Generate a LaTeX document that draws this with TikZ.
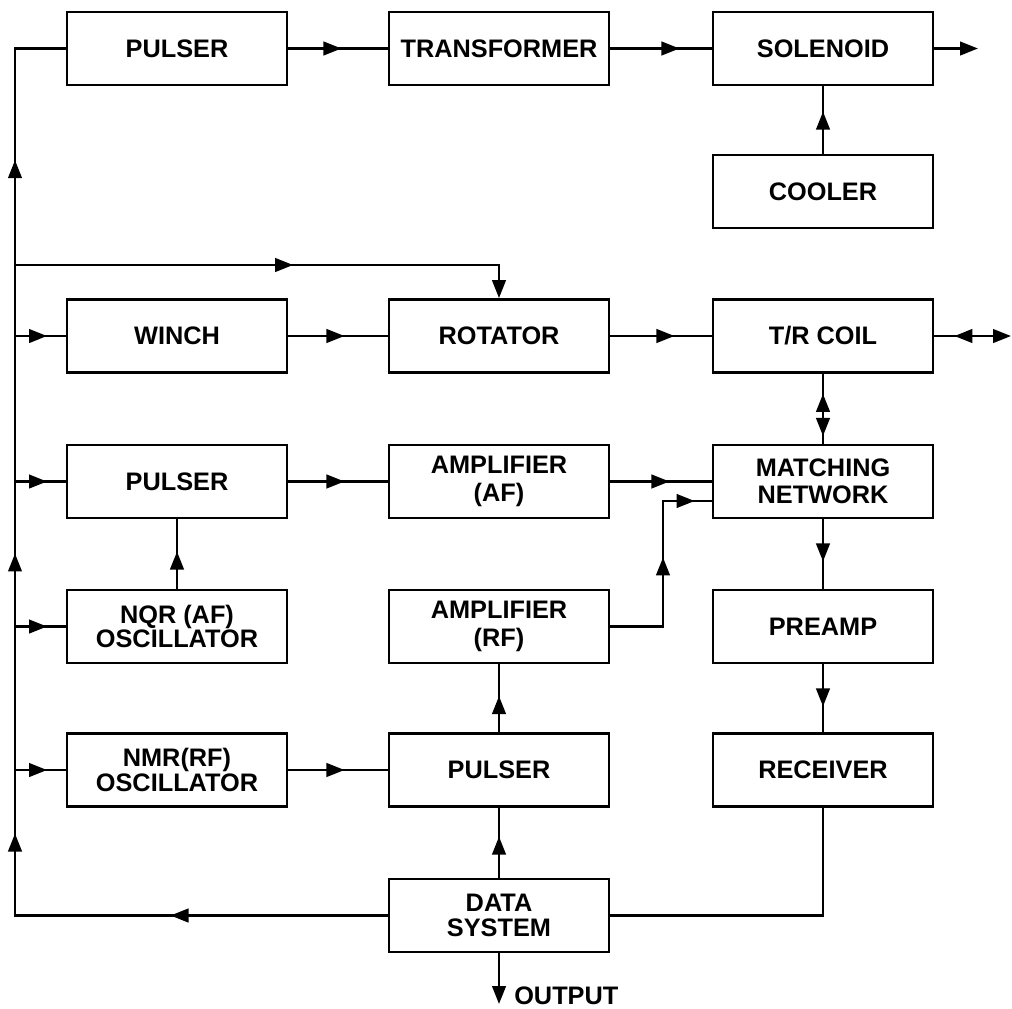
\documentclass[tikz,border=0pt]{standalone}
\usepackage{fontspec}
\setmainfont{Liberation Sans}
\usetikzlibrary{arrows.meta,decorations.markings}
\begin{document}
\begin{tikzpicture}[x=0.025cm,y=-0.025cm,
  harr/.tip={Triangle[length=0.45cm,width=0.34cm]},
  box/.style={draw,line width=2pt,minimum width=5.5cm,minimum height=1.825cm,inner sep=0pt,align=center,font=\fontsize{18}{20}\selectfont\bfseries},
  lh/.style={font=\fontsize{18}{#1}\selectfont\bfseries},
  conn/.style={line width=1.7pt},
  arrowat/.style={postaction={decorate,decoration={markings,mark=at position #1 with {\arrow{harr}}}}},
  revat/.style={postaction={decorate,decoration={markings,mark=at position #1 with {\arrowreversed{harr}}}}},
  endarr/.style={-{harr}},
  lbl/.style={inner sep=0pt,anchor=west,font=\fontsize{18}{20}\selectfont\bfseries}
]
\useasboundingbox (0,0) rectangle (1012,1008);

% boxes
\node[box] (p1)    at (177,48.5)  {PULSER};
\node[box] (tr)    at (499,48.5)  {TRANSFORMER};
\node[box] (sol)   at (823,48.5)  {SOLENOID};
\node[box] (cool)  at (823,191.5) {COOLER};
\node[box] (winch) at (177,336)   {WINCH};
\node[box] (rot)   at (499,336)   {ROTATOR};
\node[box] (trc)   at (823,336)   {T/R COIL};
\node[box] (p2)    at (177,481.5) {PULSER};
\node[box,lh=20] (aaf) at (499,481.5) {AMPLIFIER\\(AF)};
\node[box,lh=19] (mn)  at (823,481.5) {MATCHING\\NETWORK};
\node[box,lh=17] (nqr) at (177,626.5) {NQR (AF)\\OSCILLATOR};
\node[box,lh=20] (arf) at (499,626.5) {AMPLIFIER\\(RF)};
\node[box] (pre)   at (823,626.5) {PREAMP};
\node[box,lh=18] (nmr) at (177,770) {NMR(RF)\\OSCILLATOR};
\node[box] (p3)    at (499,770)   {PULSER};
\node[box] (rec)   at (823,770)   {RECEIVER};
\node[box,lh=18] (ds) at (499,915.5) {DATA\\SYSTEM};

% coordinates
\coordinate (busT) at (15,48.5);
\coordinate (busB) at (15,915.5);
\coordinate (brot) at (15,265);
\coordinate (solout) at (978,48.5);
\coordinate (trout) at (1011,336);
\coordinate (rfa) at (663,626.5);
\coordinate (rfb) at (663,501);
\coordinate (out) at (499,1004);

% main bus
\draw[conn,arrowat=5.425cm,arrowat=11.36cm,arrowat=18.36cm,arrowat=28.19cm]
  (ds.west) -- (busB) -- (busT) -- (p1.west);
% branch to rotator
\draw[conn,arrowat=6.95cm,endarr] (brot) -- (rot.north |- brot) -- (rot.north);
% bus to boxes
\draw[conn,arrowat=0.8cm] (winch.west -| busT) -- (winch.west);
\draw[conn,arrowat=0.8cm] (p2.west -| busT) -- (p2.west);
\draw[conn,arrowat=0.8cm] (nqr.west -| busT) -- (nqr.west);
\draw[conn,arrowat=0.8cm] (nmr.west -| busT) -- (nmr.west);

% top row
\draw[conn,arrowat=1.325cm] (p1.east) -- (tr.west);
\draw[conn,arrowat=1.725cm] (tr.east) -- (sol.west);
\draw[conn,endarr] (sol.east) -- (solout);
\draw[conn,arrowat=1.05cm] (cool.north) -- (sol.south);

% second row
\draw[conn,arrowat=1.4cm] (winch.east) -- (rot.west);
\draw[conn,arrowat=1.6cm] (rot.east) -- (trc.west);
\draw[conn,revat=0.5cm,endarr] (trc.east) -- (trout);
\draw[conn,revat=0.5cm,arrowat=1.55cm] (trc.south) -- (mn.north);

% third row
\draw[conn,arrowat=1.4cm] (p2.east) -- (aaf.west);
\draw[conn,arrowat=1.475cm] (aaf.east) -- (mn.west);
\draw[conn,arrowat=3.04cm,arrowat=5.24cm] (arf.east) -- (rfa) -- (rfb) -- (rfb -| mn.west);
\draw[conn,arrowat=0.925cm] (nqr.north) -- (p2.south);
\draw[conn,arrowat=1.05cm] (mn.south) -- (pre.north);

% lower rows
\draw[conn,arrowat=1.05cm] (pre.south) -- (rec.north);
\draw[conn,arrowat=1.4cm] (nmr.east) -- (p3.west);
\draw[conn,arrowat=0.9cm] (p3.north) -- (arf.south);
\draw[conn,arrowat=1.025cm] (ds.north) -- (p3.south);
\draw[conn] (rec.south) -- (rec.south |- ds.east) -- (ds.east);
\draw[conn,endarr] (ds.south) -- (out);
\node[lbl] (outlbl) at (514,996) {OUTPUT};
\end{tikzpicture}
\end{document}
